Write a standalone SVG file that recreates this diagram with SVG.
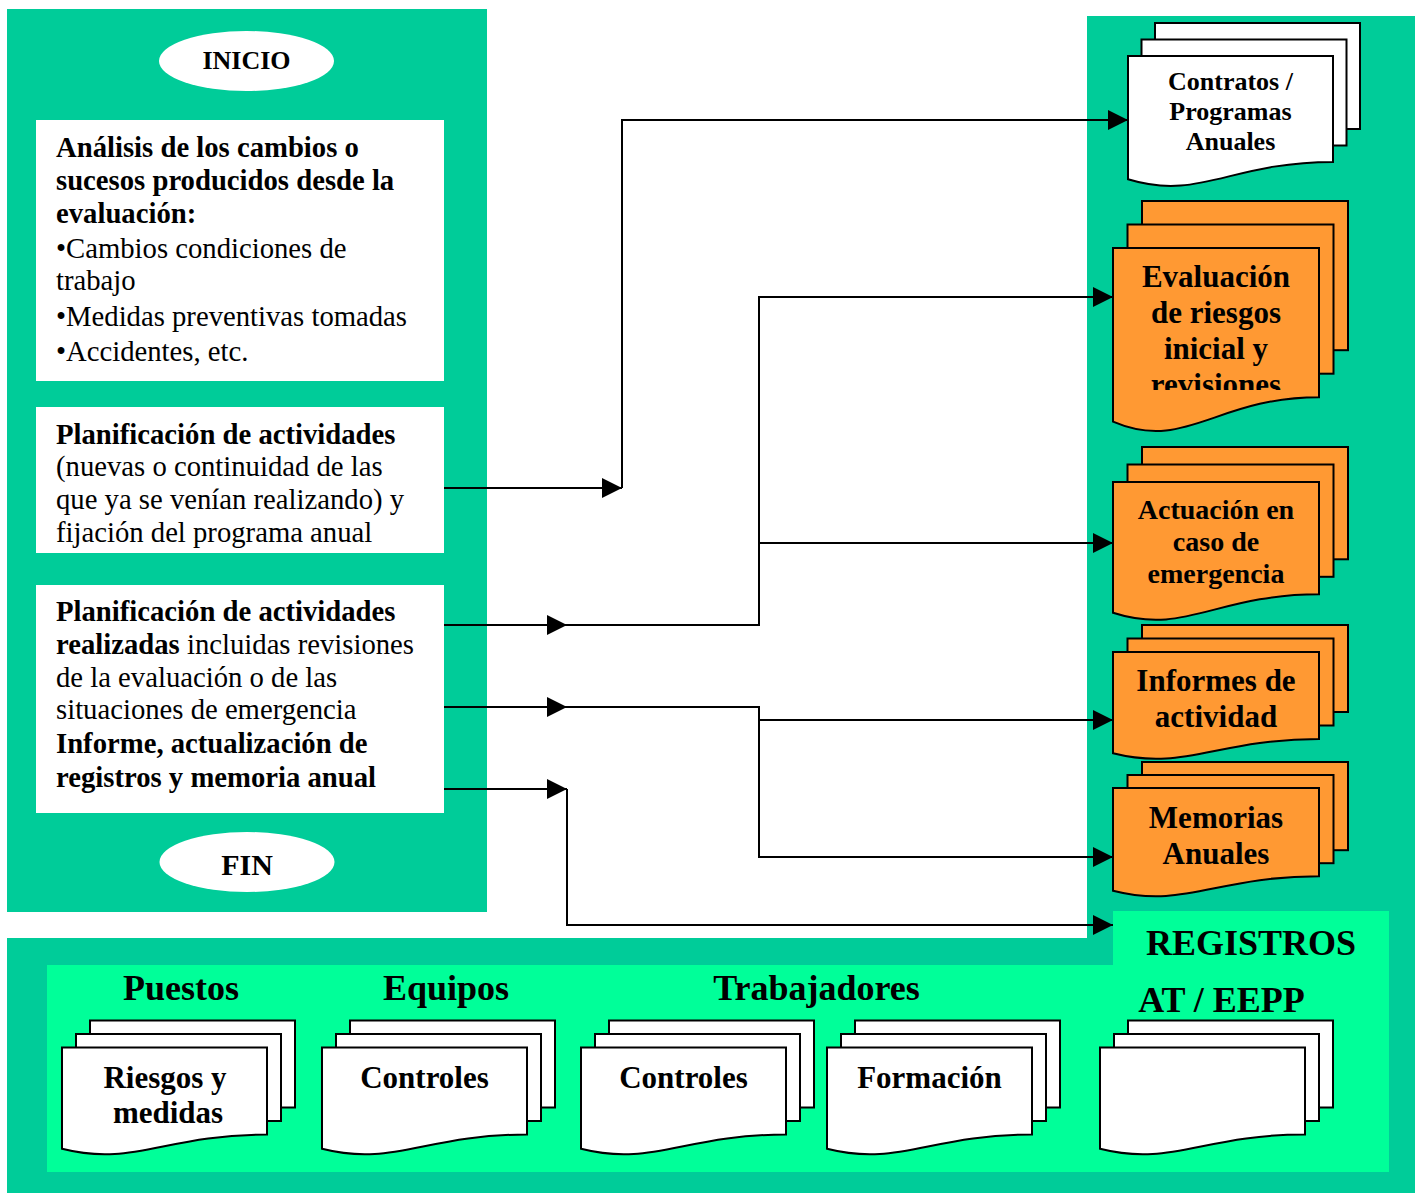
<svg xmlns="http://www.w3.org/2000/svg" width="1423" height="1193" viewBox="0 0 1423 1193">
<style>
.teal{fill:#00CC99}
.lg{fill:#00FF99}
.box{fill:#FFFFFF}
.ell{fill:#FFFFFF}
.dw{fill:#FFFFFF;stroke:#000;stroke-width:2;stroke-linejoin:miter}
.do{fill:#FF9933;stroke:#000;stroke-width:2;stroke-linejoin:miter}
.con{fill:none;stroke:#000;stroke-width:2}
text{font-family:"Liberation Serif","Times New Roman",serif;fill:#000}
.bt{font-size:28.7px}
.b{font-weight:bold}
.c{text-anchor:middle;font-weight:bold}
</style>
<defs>
<marker id="arr" viewBox="0 0 20 20" refX="20" refY="10" markerWidth="20" markerHeight="20" markerUnits="userSpaceOnUse" orient="auto">
<path d="M0,0 L20,10 L0,20 Z" fill="#000"/>
</marker>
<clipPath id="evclip"><rect x="1113" y="248" width="206" height="142"/></clipPath>
</defs>
<rect width="1423" height="1193" fill="#FFFFFF"/>
<g id="panels">
<rect class="teal" x="7" y="9" width="480" height="903"/>
<rect class="teal" x="1087" y="16" width="328" height="1177"/>
<rect class="teal" x="7" y="938" width="1408" height="255"/>
<path class="lg" d="M47,965 H1113 V911 H1389 V1172 H47 Z"/>
</g>
<g id="inicio"><ellipse class="ell" cx="246.5" cy="61" rx="87.5" ry="30"/><text class="c" x="246.5" y="69" font-size="26">INICIO</text></g>
<g id="analisis">
<rect class="box" x="36" y="120" width="408" height="261"/>
<text class="bt" x="56"><tspan class="b" x="56" y="156.5">Análisis de los cambios o</tspan><tspan class="b" x="56" y="189.5">sucesos producidos desde la</tspan><tspan class="b" x="56" y="222.5">evaluación:</tspan><tspan x="56" y="257.5">•Cambios condiciones de</tspan><tspan x="56" y="289.5">trabajo</tspan><tspan x="56" y="325.5">•Medidas preventivas tomadas</tspan><tspan x="56" y="360.5">•Accidentes, etc.</tspan></text>
</g>
<g id="planificacion">
<rect class="box" x="36" y="407" width="408" height="146"/>
<text class="bt"><tspan class="b" x="56" y="444">Planificación de actividades</tspan><tspan x="56" y="476">(nuevas o continuidad de las</tspan><tspan x="56" y="509">que ya se venían realizando) y</tspan><tspan x="56" y="542">fijación del programa anual</tspan></text>
</g>
<g id="realizadas">
<rect class="box" x="36" y="585" width="408" height="228"/>
<text class="bt"><tspan class="b" x="56" y="621">Planificación de actividades</tspan><tspan x="56" y="654"><tspan class="b">realizadas</tspan> incluidas revisiones</tspan><tspan x="56" y="687">de la evaluación o de las</tspan><tspan x="56" y="719">situaciones de emergencia</tspan><tspan class="b" x="56" y="753">Informe, actualización de</tspan><tspan class="b" x="56" y="787">registros y memoria anual</tspan></text>
</g>
<g id="fin"><ellipse class="ell" cx="247" cy="862" rx="87.5" ry="30"/><text class="c" x="247" y="875" font-size="30">FIN</text></g>
<g id="contratos">
<rect class="dw" x="1155" y="23" width="205" height="106"/>
<rect class="dw" x="1141.5" y="39.5" width="205" height="106"/>
<path class="dw" d="M1128,56 H1333 V161.9 C1230.5,161.9 1199.75,201.2 1128,179.3 Z"/>
<text class="c" font-size="26"><tspan x="1230.5" y="90">Contratos /</tspan><tspan x="1230.5" y="120">Programas</tspan><tspan x="1230.5" y="150">Anuales</tspan></text>
</g>
<g id="evaluacion">
<rect class="do" x="1142" y="201" width="206" height="149.2"/>
<rect class="do" x="1127.5" y="224.5" width="206" height="149.2"/>
<path class="do" d="M1113,248 H1319 V397.2 C1216,397.2 1185.1,452.6 1113,421.7 Z"/>
<text class="c" font-size="31" clip-path="url(#evclip)"><tspan x="1216" y="287">Evaluación</tspan><tspan x="1216" y="323">de riesgos</tspan><tspan x="1216" y="359">inicial y</tspan><tspan x="1216" y="395">revisiones</tspan></text>
</g>
<g id="actuacion">
<rect class="do" x="1142" y="447" width="206" height="112.3"/>
<rect class="do" x="1127.5" y="464.5" width="206" height="112.3"/>
<path class="do" d="M1113,482 H1319 V594.3 C1216,594.3 1185.1,636 1113,612.8 Z"/>
<text class="c" font-size="28"><tspan x="1216" y="519">Actuación en</tspan><tspan x="1216" y="551">caso de</tspan><tspan x="1216" y="583">emergencia</tspan></text>
</g>
<g id="informes">
<rect class="do" x="1142" y="625" width="206" height="87"/>
<rect class="do" x="1127.5" y="638.5" width="206" height="87"/>
<path class="do" d="M1113,652 H1319 V739 C1216,739 1185.1,771.4 1113,753.3 Z"/>
<text class="c" font-size="31"><tspan x="1216" y="691">Informes de</tspan><tspan x="1216" y="727">actividad</tspan></text>
</g>
<g id="memorias">
<rect class="do" x="1142" y="762" width="206" height="88.2"/>
<rect class="do" x="1127.5" y="775" width="206" height="88.2"/>
<path class="do" d="M1113,788 H1319 V876.2 C1216,876.2 1185.1,909 1113,890.7 Z"/>
<text class="c" font-size="31"><tspan x="1216" y="828">Memorias</tspan><tspan x="1216" y="864">Anuales</tspan></text>
</g>
<g id="registros">
<text class="c" x="1251" y="955" font-size="36">REGISTROS</text>
</g>
<g id="puestos">
<text class="c" x="181" y="1000" font-size="36">Puestos</text>
<rect class="dw" x="90" y="1020.5" width="205" height="87"/>
<rect class="dw" x="76" y="1034" width="205" height="87"/>
<path class="dw" d="M62,1047.5 H267 V1134.5 C164.5,1134.5 133.75,1166.9 62,1148.8 Z"/>
<text class="c" font-size="31"><tspan x="165" y="1088">Riesgos y</tspan><tspan x="168" y="1123">medidas</tspan></text>
</g>
<g id="equipos">
<text class="c" x="446" y="1000" font-size="36">Equipos</text>
<rect class="dw" x="350" y="1020.5" width="205" height="87"/>
<rect class="dw" x="336" y="1034" width="205" height="87"/>
<path class="dw" d="M322,1047.5 H527 V1134.5 C424.5,1134.5 393.75,1166.9 322,1148.8 Z"/>
<text class="c" x="424.5" y="1088" font-size="31">Controles</text>
</g>
<g id="trabajadores">
<text class="c" x="816.5" y="1000" font-size="36">Trabajadores</text>
<rect class="dw" x="609" y="1020.5" width="205" height="87"/>
<rect class="dw" x="595" y="1034" width="205" height="87"/>
<path class="dw" d="M581,1047.5 H786 V1134.5 C683.5,1134.5 652.75,1166.9 581,1148.8 Z"/>
<text class="c" x="683.5" y="1088" font-size="31">Controles</text>
<rect class="dw" x="855" y="1020.5" width="205" height="87"/>
<rect class="dw" x="841" y="1034" width="205" height="87"/>
<path class="dw" d="M827,1047.5 H1032 V1134.5 C929.5,1134.5 898.75,1166.9 827,1148.8 Z"/>
<text class="c" x="929.5" y="1088" font-size="31">Formación</text>
</g>
<g id="at-eepp">
<text class="c" x="1221.5" y="1012" font-size="36">AT / EEPP</text>
<rect class="dw" x="1128" y="1020.5" width="205" height="87"/>
<rect class="dw" x="1114" y="1034" width="205" height="87"/>
<path class="dw" d="M1100,1047.5 H1305 V1134.5 C1202.5,1134.5 1171.75,1166.9 1100,1148.8 Z"/>
</g>
<g id="connectors">
<path class="con" marker-end="url(#arr)" d="M444,488 H622"/>
<path class="con" marker-end="url(#arr)" d="M622,488 V120 H1128"/>
<path class="con" marker-end="url(#arr)" d="M444,625 H567"/>
<path class="con" marker-end="url(#arr)" d="M567,625 H759 V297 H1113"/>
<path class="con" marker-end="url(#arr)" d="M759,543 H1113"/>
<path class="con" marker-end="url(#arr)" d="M444,707 H567"/>
<path class="con" marker-end="url(#arr)" d="M567,707 H759 V857 H1113"/>
<path class="con" marker-end="url(#arr)" d="M759,720 H1113"/>
<path class="con" marker-end="url(#arr)" d="M444,789 H567"/>
<path class="con" marker-end="url(#arr)" d="M567,789 V925 H1113"/>
</g>
</svg>
